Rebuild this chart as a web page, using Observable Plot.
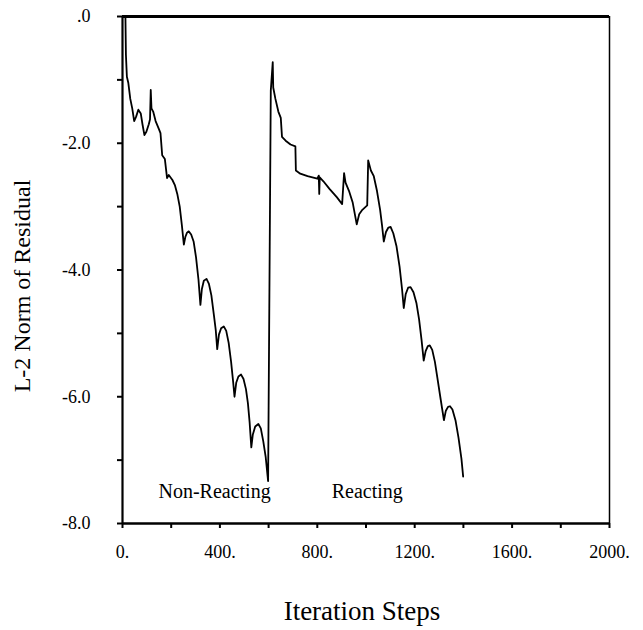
<!DOCTYPE html>
<html><head><meta charset="utf-8">
<script src="https://cdn.jsdelivr.net/npm/d3@7"></script>
<script src="https://cdn.jsdelivr.net/npm/@observablehq/plot@0.6"></script>
<style>body{margin:0;background:#fff} svg{display:block}</style>
</head><body><div id="chart"></div>
<script>
const stepX = [12,14,18,24,32,40,48,56,65,75,82,90,98,108,113,116,119,126,136,150,156,163,174,183,190,205,215,225,235,244,252,258,265,272,282,292,302,312,320,326,334,345,355,365,375,383,389,396,405,416,426,436,446,454,460,467,476,487,497,507,515,522,529,535,545,558,568,578,588,598,609,617,619,628,640,650,655,670,690,710,712,730,760,800,806,808,810,825,850,880,902,910,916,930,945,962,972,985,1005,1009,1020,1032,1045,1058,1066,1073,1082,1092,1101,1112,1125,1138,1148,1155,1163,1173,1183,1195,1207,1218,1228,1237,1245,1254,1262,1272,1283,1293,1305,1320,1328,1337,1345,1355,1368,1380,1392,1399];
const residual = [0,-0.6,-0.95,-1.05,-1.3,-1.45,-1.65,-1.58,-1.47,-1.53,-1.7,-1.87,-1.82,-1.7,-1.62,-1.16,-1.45,-1.5,-1.65,-1.78,-1.84,-2.19,-2.25,-2.55,-2.5,-2.58,-2.66,-2.8,-3.0,-3.3,-3.6,-3.48,-3.41,-3.39,-3.44,-3.55,-3.8,-4.15,-4.55,-4.3,-4.17,-4.14,-4.22,-4.4,-4.7,-4.95,-5.25,-5.02,-4.92,-4.89,-4.96,-5.15,-5.45,-5.75,-6.0,-5.78,-5.68,-5.65,-5.72,-5.88,-6.1,-6.4,-6.8,-6.6,-6.47,-6.43,-6.5,-6.7,-6.95,-7.33,-1.17,-0.72,-1.12,-1.3,-1.5,-1.6,-1.9,-1.96,-2.02,-2.05,-2.43,-2.48,-2.52,-2.56,-2.51,-2.8,-2.54,-2.6,-2.72,-2.85,-2.96,-2.47,-2.62,-2.75,-2.93,-3.28,-3.12,-3.05,-2.98,-2.27,-2.43,-2.52,-2.75,-3.05,-3.3,-3.55,-3.4,-3.33,-3.32,-3.42,-3.62,-3.95,-4.3,-4.6,-4.38,-4.28,-4.27,-4.35,-4.52,-4.78,-5.1,-5.43,-5.28,-5.2,-5.19,-5.26,-5.45,-5.7,-6.0,-6.37,-6.22,-6.16,-6.15,-6.2,-6.38,-6.65,-6.98,-7.26];

const yMajorTicks = [0, -2, -4, -6, -8];
const yTickLabels = [".0", "-2.0", "-4.0", "-6.0", "-8.0"];
const yMinorTicks = [-1, -3, -5, -7];
const xMajorTicks = [0, 400, 800, 1200, 1600, 2000];
const xTickLabels = ["0.", "400.", "800.", "1200.", "1600.", "2000."];
const xMinorTicks = [200, 600, 1000, 1400, 1800];

const regionNames = ["Non-Reacting", "Reacting"];
const regionX = [378, 1005];
const regionY = [-7.5, -7.5];

const xTitle = ["Iteration Steps"];
const yTitle = ["L-2 Norm of Residual"];

const chart = Plot.plot({
  width: 643,
  height: 630,
  marginLeft: 122,
  marginRight: 34,
  marginTop: 16,
  marginBottom: 107,
  x: {domain: [0, 2000]},
  y: {domain: [-8, 0]},
  style: {fontFamily: "'Liberation Serif', 'DejaVu Serif', serif", fontSize: "18px", color: "black", background: "white"},
  marks: [
    Plot.axisY(yMajorTicks, {tickSize: 5, tickPadding: 27, strokeWidth: 2, fontSize: 18,
      tickFormat: d => yTickLabels[yMajorTicks.indexOf(d)], label: null}),
    Plot.axisY(yMinorTicks, {tickSize: 5, strokeWidth: 2, tickFormat: () => "", label: null}),
    Plot.axisX(xMajorTicks, {tickSize: 5, tickPadding: 17, strokeWidth: 2, fontSize: 18,
      tickFormat: d => xTickLabels[xMajorTicks.indexOf(d)], label: null}),
    Plot.axisX(xMinorTicks, {tickSize: 5, strokeWidth: 2, tickFormat: () => "", label: null}),
    Plot.ruleX([0], {stroke: "black", strokeWidth: 2.2}),
    Plot.ruleX([2000], {stroke: "black", strokeWidth: 1.5}),
    Plot.ruleY([-8], {stroke: "black", strokeWidth: 2.5}),
    Plot.ruleY([0], {stroke: "black", strokeWidth: 3}),
    Plot.line(residual, {x: stepX, y: residual, stroke: "black", strokeWidth: 1.8, strokeLinejoin: "round"}),
    Plot.text(regionNames, {x: regionX, y: regionY, text: regionNames, fontSize: 20, fill: "black"}),
    Plot.text(xTitle, {frameAnchor: "bottom", dx: -4, dy: 96, text: d => d, fontSize: 27, fill: "black"}),
    Plot.text(yTitle, {frameAnchor: "left", textAnchor: "middle", dx: -100, dy: 16, rotate: -90, text: d => d, fontSize: 24, fill: "black"})
  ]
});
document.getElementById("chart").appendChild(chart);
</script>
</body></html>
